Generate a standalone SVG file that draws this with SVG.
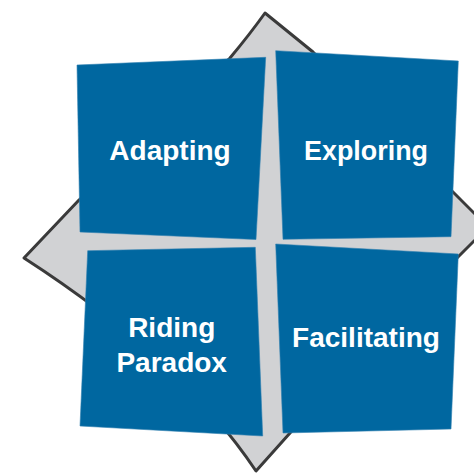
<svg xmlns="http://www.w3.org/2000/svg" width="474" height="474" viewBox="0 0 474 474">
<style>
.sq{fill:#0067a0;stroke:#2f7fb0;stroke-width:0.6}
.lbl{font-family:"Liberation Sans",Arial,sans-serif;font-weight:bold;font-size:28px;fill:#ffffff;text-anchor:middle}
</style>
<rect width="474" height="474" fill="#ffffff"/>
<g id="backdrop">
<path d="M24,258 L79,200 L230,58 Q250,34 265,13 L313,52 L488,227 L458,257 L290,433 L256,471 Q182,360 24,258 Z" fill="#d1d2d4" stroke="#3a3a3a" stroke-width="3" stroke-linejoin="round"/>
</g>
<g id="connectors"></g>
<g id="adapting">
<polygon class="sq" points="77,65 265.7,57.3 256,239.5 80,232"/>
<text class="lbl" x="170" y="160">Adapting</text>
</g>
<g id="exploring">
<polygon class="sq" points="275.7,50.7 458.3,61 451,236.7 283,239.3"/>
<text class="lbl" x="366" y="160" textLength="124" lengthAdjust="spacingAndGlyphs">Exploring</text>
</g>
<g id="riding-paradox">
<polygon class="sq" points="87.7,250.7 255.3,247.3 262.7,436 80,426"/>
<text class="lbl" x="171.7" y="336.7">Riding</text>
<text class="lbl" x="171.7" y="372.3">Paradox</text>
</g>
<g id="facilitating">
<polygon class="sq" points="275.7,244 458.3,254 451,429 283,433"/>
<text class="lbl" x="366" y="347.3">Facilitating</text>
</g>
</svg>
